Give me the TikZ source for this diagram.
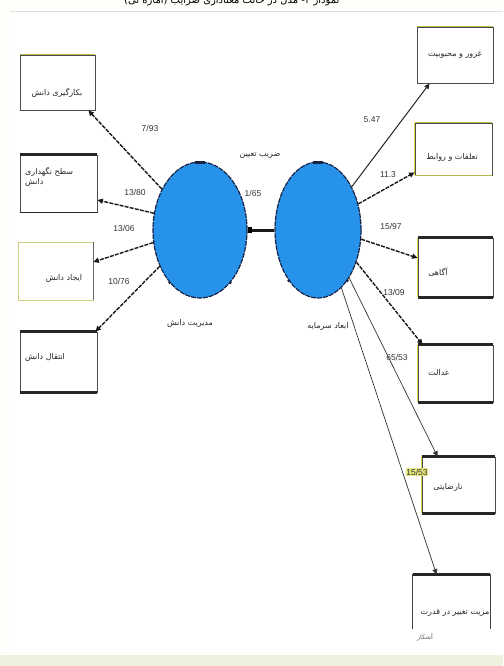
\documentclass[tikz,border=0pt]{standalone}
\usepackage{fontspec}
\setmainfont{Liberation Sans}
\newfontfamily\fafont[Script=Arabic]{DejaVu Sans}
\TeXXeTstate=1
\usetikzlibrary{arrows.meta,shapes.geometric}
\newcommand{\fatxt}[1]{{\fafont\beginR #1\endR}}
\definecolor{bluefill}{RGB}{38,146,234}
\definecolor{navyline}{RGB}{25,35,70}
\definecolor{olivec}{RGB}{185,185,70}
\definecolor{yelc}{RGB}{220,220,70}
\definecolor{bgc}{RGB}{254,254,250}
\definecolor{bandc}{RGB}{240,240,222}
\begin{document}
\begin{tikzpicture}[x=1pt,y=-1pt,
  box/.style={draw=black!70, line width=0.8pt, fill=white, inner sep=0pt},
  thickedge/.style={line width=2.4pt, draw=black!85},
  oliveedge/.style={line width=1.6pt, draw=olivec},
  yedge/.style={line width=1.1pt, draw=yelc},
  lbl/.style={font=\fontsize{8}{10}\selectfont, inner sep=0pt, text=black!85},
  num/.style={font=\fontsize{8.5}{9}\selectfont, inner sep=0.5pt, text=black!80},
  tip/.style={-{Triangle[length=5.5pt,width=5pt]}},
  conn/.style={tip, line width=1.4pt, draw=black!90, dash pattern=on 4pt off 1.2pt},
  connsolid/.style={tip, line width=1pt, draw=black!85},
  connthin/.style={tip, line width=0.7pt, draw=black!80},
  latent/.style={ellipse, draw=navyline, line width=1.2pt, dash pattern=on 5pt off 1pt, fill=bluefill, inner sep=0pt, minimum width=94pt, minimum height=136pt}
]
\path[use as bounding box] (0,0) rectangle (503,666);
\fill[bgc] (0,0) rectangle (503,666);
\fill[white] (10,11) rectangle (503,655);
\draw[black!12, line width=0.6pt] (10,11) -- (503,11);
\fill[bandc] (0,655) rectangle (503,666);

% clipped caption at top (cut off in the reference as well)
\begin{scope}
\clip (0,0) rectangle (503,9.5);
\node[font=\fafont\fontsize{10}{11}\selectfont, inner sep=0pt, anchor=west] (cap) at (124,0.5) {\fatxt{نمودار ۳- مدل در حالت معناداری ضرایب (آماره تی)}};
\end{scope}

% latent variables
\node[latent] (L) at (200,230) {};
\node[latent, minimum width=86pt] (R) at (318,230) {};
\fill[navyline] ([xshift=-5pt]L.north) rectangle ([xshift=5pt,yshift=-3pt]L.north);
\fill[navyline] ([xshift=-5pt]R.north) rectangle ([xshift=5pt,yshift=-3pt]R.north);
\fill[navyline] (L.-120) circle (1.5pt);
\fill[navyline] (L.-60) circle (1.5pt);
\fill[navyline] (R.-120) circle (1.5pt);
\fill[navyline] (R.-60) circle (1.5pt);
\draw[line width=3pt, black!90] (L.east) -- (R.west);
\fill[black] ([yshift=3pt]L.east) rectangle ([xshift=4pt,yshift=-3pt]L.east);

\node[lbl] (Lname) at (190,323) {\fatxt{مدیریت دانش}};
\node[lbl] (Rname) at (328,326) {\fatxt{ابعاد سرمایه}};
\node[lbl] (coef) at (260,156) {\fatxt{ضریب تعیین}};
\node[num] (r2v) at (253,193) {1/65};

% left boxes
\node[box, minimum width=75pt, minimum height=55pt] (l1) at (57.5,82.5) {};
\node[box, minimum width=77pt, minimum height=57pt] (l2) at (58.5,183.5) {};
\node[box, draw=olivec!70, minimum width=75pt, minimum height=58pt] (l3) at (55.5,271) {};
\node[box, minimum width=77pt, minimum height=60pt] (l4) at (58.5,362) {};
\draw[oliveedge] (l1.north west) -- (l1.north east);
\draw[thickedge] (l2.north west) -- (l2.north east);
\draw[line width=1.6pt, black!85] (l2.south west) -- (l2.south east);
\draw[black!60, line width=0.8pt] (l3.north east) -- (l3.south east);
\draw[thickedge] (l4.north west) -- (l4.north east);
\draw[thickedge] (l4.south west) -- (l4.south east);

\node[lbl] (t1) at (57,93) {\fatxt{بکارگیری دانش}};
\node[lbl, align=left, anchor=north west] (t2) at (25,167) {\fatxt{سطح نگهداری}\\\fatxt{دانش}};
\node[lbl] (t3) at (64,278) {\fatxt{ایجاد دانش}};
\node[lbl] (t4) at (45,357) {\fatxt{انتقال دانش}};

% right boxes
\node[box, minimum width=76pt, minimum height=56pt] (r1) at (455,55) {};
\node[box, minimum width=77pt, minimum height=52pt] (r2) at (453.5,149) {};
\node[box, minimum width=75pt, minimum height=59pt] (r3) at (455.5,267.5) {};
\node[box, minimum width=75pt, minimum height=57pt] (r4) at (455.5,373.5) {};
\node[box, minimum width=73pt, minimum height=56pt] (r5) at (458.5,485) {};
\node[box, draw=none, minimum width=77pt, minimum height=52pt] (r6) at (451.5,601) {};
\draw[oliveedge] (r1.north west) -- (r1.north east);
\draw[oliveedge] (r2.north west) -- (r2.north east);
\draw[yedge] (r2.north west) -- (r2.south west);
\draw[oliveedge] (r2.south west) -- (r2.south east);
\draw[thickedge] (r3.north west) -- (r3.north east);
\draw[thickedge] (r3.south west) -- (r3.south east);
\draw[yedge] (r3.north west) -- (r3.south west);
\draw[thickedge] (r4.north west) -- (r4.north east);
\draw[thickedge] (r4.south west) -- (r4.south east);
\draw[yedge] (r4.north west) -- (r4.south west);
\draw[thickedge] (r5.north west) -- (r5.north east);
\draw[thickedge] (r5.south west) -- (r5.south east);
\draw[yedge] (r5.north west) -- (r5.south west);
\draw[black!75, line width=0.9pt] ([yshift=-2pt]r6.south west) -- (r6.north west) -- (r6.north east) -- ([yshift=-2pt]r6.south east);
\draw[thickedge] (r6.north west) -- (r6.north east);

\node[lbl] (u1) at (455,55) {\fatxt{غرور و محبوبیت}};
\node[lbl] (u2) at (452,157) {\fatxt{تعلقات و روابط}};
\node[lbl] (u3) at (438,272) {\fatxt{آگاهی}};
\node[lbl] (u4) at (439,373) {\fatxt{عدالت}};
\node[lbl] (u5) at (448,487) {\fatxt{نارضایتی}};
\node[lbl] (u6) at (455,613) {\fatxt{مزیت تغییر در قدرت}};
\node[lbl, font=\fontsize{6.5}{7}\selectfont, text=black!60] (u7) at (425,637) {\fatxt{آشکار}};

% left connectors
\draw[conn] (L.133) -- ([xshift=-7pt]l1.south east);
\draw[conn] (L.160) -- ([yshift=-16.5pt]l2.east);
\draw[conn] (L.195) -- ([yshift=9pt]l3.east);
\draw[conn] (L.222) -- ([xshift=-2pt]l4.north east);

% right connectors
\draw[connsolid] (R.52) -- ([xshift=13pt]r1.south west);
\draw[conn] (R.33) -- ([yshift=3pt]r2.south west);
\draw[conn] (R.-12) -- ([yshift=9.5pt]r3.west);
\draw[conn] (R.-40) -- ([xshift=5pt]r4.north west);
\draw[connthin] (R.-57) -- ([xshift=16pt]r5.north west);
\draw[connthin] (R.-68) -- ([xshift=24pt]r6.north west);

% coefficient labels
\node[num] (n1) at (150,128) {7/93};
\node[num] (n2) at (135,192) {13/80};
\node[num] (n3) at (124,228) {13/06};
\node[num] (n4) at (119,281) {10/76};
\node[num] (n5) at (372,120) {5.47};
\node[num] (n6) at (388,175) {11.3};
\node[num] (n7) at (391,226) {15/97};
\node[num] (n8) at (394,292) {13/09};
\node[num] (n9) at (397,357) {65/53};
\node[num, fill=yelc!70] (n10) at (417,472) {15/53};
\end{tikzpicture}
\end{document}
